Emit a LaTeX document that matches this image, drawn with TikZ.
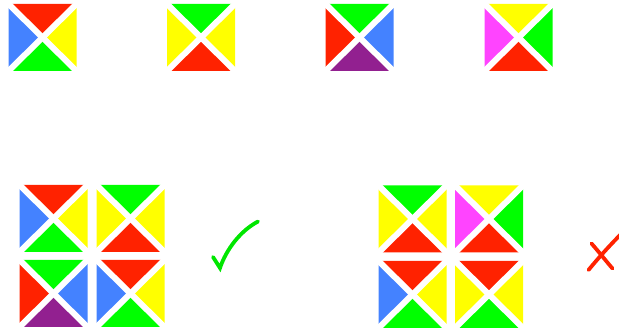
\documentclass[tikz,border=0pt]{standalone}
\definecolor{tred}{HTML}{FF2200}
\definecolor{tblue}{HTML}{4482FF}
\definecolor{tyellow}{HTML}{FFFF00}
\definecolor{tgreen}{HTML}{00FF00}
\definecolor{tpurple}{HTML}{922090}
\definecolor{tmagenta}{HTML}{FF44FF}
\definecolor{checkgreen}{HTML}{00E600}
\tikzset{
  sep/.style={white, line width=6pt, line cap=rect},
  markstroke/.style={line width=3.8pt, line cap=round},
}
% \quadtile{cx}{cy}{top}{right}{bottom}{left}
\newcommand\quadtile[6]{%
  \begin{scope}[shift={(#1,#2)}]
    \fill[#3] (-34,-33.5) -- (34,-33.5) -- (0,0) -- cycle;
    \fill[#4] (34,-33.5) -- (34,33.5) -- (0,0) -- cycle;
    \fill[#5] (34,33.5) -- (-34,33.5) -- (0,0) -- cycle;
    \fill[#6] (-34,33.5) -- (-34,-33.5) -- (0,0) -- cycle;
    \draw[sep] (-34,-33.5) -- (34,33.5);
    \draw[sep] (34,-33.5) -- (-34,33.5);
  \end{scope}}
\begin{document}
\begin{tikzpicture}[x=1pt,y=-1pt]
\useasboundingbox (0,0) rectangle (619,331);
% top row
\quadtile{42.5}{37.5}{tred}{tyellow}{tgreen}{tblue}
\quadtile{201}{37.5}{tgreen}{tyellow}{tred}{tyellow}
\quadtile{359.5}{37.5}{tgreen}{tblue}{tpurple}{tred}
\quadtile{518.5}{37.5}{tyellow}{tgreen}{tred}{tmagenta}
% left grid
\quadtile{53.5}{218.5}{tred}{tyellow}{tgreen}{tblue}
\quadtile{130.5}{218.5}{tgreen}{tyellow}{tred}{tyellow}
\quadtile{53.5}{293.5}{tgreen}{tblue}{tpurple}{tred}
\quadtile{130.5}{293.5}{tred}{tyellow}{tgreen}{tblue}
% right grid
\quadtile{412.5}{219}{tgreen}{tyellow}{tred}{tyellow}
\quadtile{489}{219}{tyellow}{tgreen}{tred}{tmagenta}
\quadtile{412.5}{294.5}{tred}{tyellow}{tgreen}{tblue}
\quadtile{489}{294.5}{tred}{tyellow}{tgreen}{tyellow}
% check mark
\draw[markstroke, checkgreen] (213,257) .. controls (216,262) .. (220,268)
  .. controls (226,250) and (240,231) .. (258,221.5);
% cross
\draw[markstroke, tred] (588.5,270) .. controls (600,256) and (612,243) .. (626,229);
\draw[markstroke, tred] (591.5,243.5) .. controls (599,252) and (606,261) .. (612.5,268.5);
\end{tikzpicture}
\end{document}
